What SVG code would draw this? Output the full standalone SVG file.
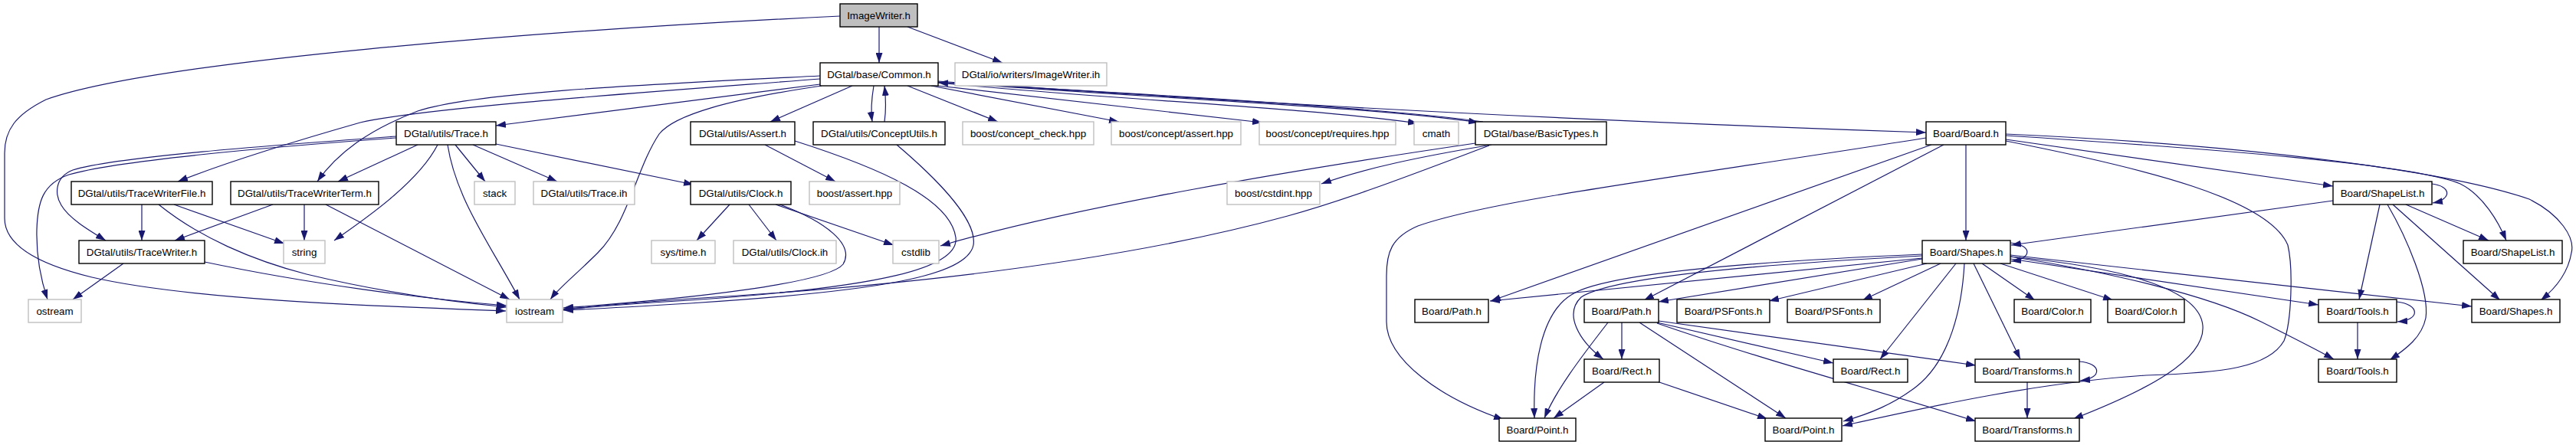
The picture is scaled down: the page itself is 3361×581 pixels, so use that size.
<svg xmlns="http://www.w3.org/2000/svg" width="3361" height="581" viewBox="0 0 3361 581">
<defs>
<marker id="a" viewBox="0 0 13 9" refX="13" refY="4.5" markerWidth="13" markerHeight="9" markerUnits="userSpaceOnUse" orient="auto">
<path d="M0,0 L13,4.5 L0,9 Z" fill="#191970"/>
</marker>
<style>
rect{fill:#fff;stroke:#000;stroke-width:1.4}
.x rect{stroke:#bfbfbf}
.r rect{fill:#bfbfbf}
text{font-family:"Liberation Sans",Arial,Helvetica,sans-serif;font-size:13.33px;text-anchor:middle;fill:#000}
#edges path{fill:none;stroke:#191970;stroke-width:1.2;marker-end:url(#a)}
</style>
</defs>
<rect x="0" y="0" width="3361" height="581" style="fill:#fff;stroke:none"/>
<g id="edges">
<path d="M1147,35 L1147,82"/>
<path d="M1184,35 L1308,82"/>
<path d="M1096,21 C700,40 200,80 60,130 C20,150 6,170 6,200 L6,285 C6,320 50,345 120,362 C250,392 500,400 660,406"/>
<path d="M1070,110 L647,164"/>
<path d="M1070,103 C850,120 560,140 470,160 C400,180 300,210 232,237"/>
<path d="M1070,99 C850,110 620,120 545,145 C480,170 440,200 414,237"/>
<path d="M1072,112 C950,130 880,150 860,175 C830,220 820,290 780,330 C750,360 730,375 718,391"/>
<path d="M1112,112 L1005,159"/>
<path d="M1140,112 C1137,130 1136,145 1138,159"/>
<path d="M1154,159 C1156,145 1156,130 1154,112"/>
<path d="M1184,112 L1302,159"/>
<path d="M1215,112 L1460,159"/>
<path d="M1224,112 L1647,160"/>
<path d="M1224,108 C1450,130 1700,140 1850,161"/>
<path d="M1224,107 C1500,128 1800,140 1929,160"/>
<path d="M1935,159 C1800,140 1450,120 1224,108"/>
<path d="M1224,106 C1500,125 1900,152 2513,173"/>
<path d="M545,189 L441,237"/>
<path d="M517,178 C350,190 150,205 95,222 C70,232 72,255 80,268 C90,285 115,300 138,314"/>
<path d="M517,180 C350,192 150,210 90,228 C55,240 49,265 48,300 C47,340 55,370 62,391"/>
<path d="M571,189 C545,240 470,290 436,314"/>
<path d="M584,189 C595,260 640,320 678,391"/>
<path d="M594,189 L633,237"/>
<path d="M617,189 L727,237"/>
<path d="M647,188 L905,241"/>
<path d="M185,267 L185,314"/>
<path d="M227,267 L371,318"/>
<path d="M207,267 C260,310 330,340 400,358 C500,382 600,395 661,401"/>
<path d="M356,267 L228,314"/>
<path d="M397,267 L397,314"/>
<path d="M425,267 L665,391"/>
<path d="M161,344 L95,391"/>
<path d="M267,342 C400,370 550,390 661,399"/>
<path d="M952,267 L909,314"/>
<path d="M977,267 L1013,314"/>
<path d="M1012,267 L1166,320"/>
<path d="M1015,266 C1080,290 1115,320 1100,345 C1080,370 900,390 735,402"/>
<path d="M998,189 L1090,237"/>
<path d="M1037,184 C1150,220 1240,260 1247,310 C1252,350 1150,375 900,392 C800,398 760,402 735,404"/>
<path d="M1170,189 C1230,240 1275,290 1270,320 C1262,360 1150,380 900,396 C800,402 760,404 735,405"/>
<path d="M1946,189 C1850,205 1780,220 1724,240"/>
<path d="M1925,187 C1700,220 1400,270 1227,321"/>
<path d="M1943,190 C1850,225 1760,260 1680,282 C1450,345 1150,375 900,390 C820,396 770,400 735,404"/>
<path d="M2513,180 C2200,230 1950,260 1850,295 C1815,310 1809,330 1809,360 L1809,420 C1809,470 1880,520 1962,548"/>
<path d="M2520,189 L1945,393"/>
<path d="M2536,189 L2145,392"/>
<path d="M2565,189 L2565,314"/>
<path d="M2617,182 L3044,243"/>
<path d="M2617,184 C2800,220 2960,260 2985,320 C2992,350 2990,420 2980,445 C2960,480 2900,487 2800,490 C2650,500 2500,535 2404,556"/>
<path d="M2617,177 C2900,195 3150,215 3210,240 C3240,255 3260,290 3270,314"/>
<path d="M2617,175 C2950,190 3200,225 3300,260 C3340,280 3360,310 3355,330 C3350,360 3330,380 3315,392"/>
<path d="M3173,240 C3198,243 3200,260 3174,265"/>
<path d="M3044,262 L2624,320"/>
<path d="M3105,267 L3078,391"/>
<path d="M3115,267 C3140,310 3170,380 3165,415 C3160,440 3140,455 3118,470"/>
<path d="M3122,267 L3262,392"/>
<path d="M3139,267 L3247,314"/>
<path d="M2623,317 C2652,320 2652,338 2624,341"/>
<path d="M2508,337 L1944,393"/>
<path d="M2508,332 C2200,345 2080,365 2050,385 C2010,410 2000,480 2002,546"/>
<path d="M2508,334 C2200,350 2090,370 2063,388 C2040,410 2060,445 2092,469"/>
<path d="M2508,338 L2164,394"/>
<path d="M2514,344 L2308,393"/>
<path d="M2532,344 L2430,392"/>
<path d="M2586,344 L2655,392"/>
<path d="M2610,344 L2757,392"/>
<path d="M2552,344 L2453,469"/>
<path d="M2563,344 C2560,400 2545,470 2500,505 C2470,528 2440,540 2405,550"/>
<path d="M2575,344 L2636,469"/>
<path d="M2623,338 L3025,398"/>
<path d="M2623,335 C2750,355 2880,385 2950,420 C2990,440 3020,455 3045,469"/>
<path d="M2623,333 L3225,400"/>
<path d="M2623,335 C2780,350 2870,380 2874,425 C2878,470 2800,510 2705,547"/>
<path d="M2116,421 L2116,469"/>
<path d="M2098,421 C2060,470 2030,510 2015,546"/>
<path d="M2139,421 L2330,546"/>
<path d="M2162,421 L2392,474"/>
<path d="M2164,419 L2578,477"/>
<path d="M2162,422 C2300,470 2450,510 2578,550"/>
<path d="M2093,499 L2027,546"/>
<path d="M2162,498 L2306,547"/>
<path d="M2713,472 C2742,474 2744,494 2714,497"/>
<path d="M2645,499 L2645,546"/>
<path d="M3127,394 C3157,397 3159,418 3128,420"/>
<path d="M3076,421 L3076,469"/>
</g>
<g id="n_imgw" class="r"><rect x="1096" y="5" width="101" height="30"/><text x="1146.5" y="24.7">ImageWriter.h</text></g>
<g id="n_common"><rect x="1070" y="82" width="154" height="30"/><text x="1147" y="101.7">DGtal/base/Common.h</text></g>
<g id="n_imgih" class="x"><rect x="1246" y="82" width="198" height="30"/><text x="1345" y="101.7">DGtal/io/writers/ImageWriter.ih</text></g>
<g id="n_trace"><rect x="517" y="159" width="130" height="30"/><text x="582" y="178.7">DGtal/utils/Trace.h</text></g>
<g id="n_assert"><rect x="901" y="159" width="136" height="30"/><text x="969" y="178.7">DGtal/utils/Assert.h</text></g>
<g id="n_concept"><rect x="1061" y="159" width="172" height="30"/><text x="1147" y="178.7">DGtal/utils/ConceptUtils.h</text></g>
<g id="n_cc" class="x"><rect x="1256" y="159" width="171" height="30"/><text x="1341.5" y="178.7">boost/concept_check.hpp</text></g>
<g id="n_ca" class="x"><rect x="1450" y="159" width="169" height="30"/><text x="1534.5" y="178.7">boost/concept/assert.hpp</text></g>
<g id="n_cr" class="x"><rect x="1643" y="159" width="178" height="30"/><text x="1732" y="178.7">boost/concept/requires.hpp</text></g>
<g id="n_cmath" class="x"><rect x="1845" y="159" width="58" height="30"/><text x="1874" y="178.7">cmath</text></g>
<g id="n_basic"><rect x="1925" y="159" width="171" height="30"/><text x="2010.5" y="178.7">DGtal/base/BasicTypes.h</text></g>
<g id="n_board"><rect x="2513" y="159" width="104" height="30"/><text x="2565" y="178.7">Board/Board.h</text></g>
<g id="n_twf"><rect x="93" y="237" width="184" height="30"/><text x="185" y="256.7">DGtal/utils/TraceWriterFile.h</text></g>
<g id="n_twt"><rect x="301" y="237" width="193" height="30"/><text x="397.5" y="256.7">DGtal/utils/TraceWriterTerm.h</text></g>
<g id="n_stack" class="x"><rect x="619" y="237" width="53" height="30"/><text x="645.5" y="256.7">stack</text></g>
<g id="n_traceih" class="x"><rect x="696" y="237" width="132" height="30"/><text x="762" y="256.7">DGtal/utils/Trace.ih</text></g>
<g id="n_clock"><rect x="901" y="237" width="131" height="30"/><text x="966.5" y="256.7">DGtal/utils/Clock.h</text></g>
<g id="n_bassert" class="x"><rect x="1056" y="237" width="118" height="30"/><text x="1115" y="256.7">boost/assert.hpp</text></g>
<g id="n_cstdint" class="x"><rect x="1601" y="237" width="121" height="30"/><text x="1661.5" y="256.7">boost/cstdint.hpp</text></g>
<g id="n_shapelist"><rect x="3044" y="237" width="129" height="30"/><text x="3108.5" y="256.7">Board/ShapeList.h</text></g>
<g id="n_tw"><rect x="103" y="314" width="164" height="30"/><text x="185" y="333.7">DGtal/utils/TraceWriter.h</text></g>
<g id="n_string" class="x"><rect x="370" y="314" width="54" height="30"/><text x="397" y="333.7">string</text></g>
<g id="n_systime" class="x"><rect x="850" y="314" width="83" height="30"/><text x="891.5" y="333.7">sys/time.h</text></g>
<g id="n_clockih" class="x"><rect x="957" y="314" width="134" height="30"/><text x="1024" y="333.7">DGtal/utils/Clock.ih</text></g>
<g id="n_cstdlib" class="x"><rect x="1165" y="314" width="60" height="30"/><text x="1195" y="333.7">cstdlib</text></g>
<g id="n_shapes"><rect x="2508" y="314" width="115" height="30"/><text x="2565.5" y="333.7">Board/Shapes.h</text></g>
<g id="n_shapelist2"><rect x="3214" y="314" width="129" height="30"/><text x="3278.5" y="333.7">Board/ShapeList.h</text></g>
<g id="n_ostream" class="x"><rect x="37" y="391" width="69" height="30"/><text x="71.5" y="410.7">ostream</text></g>
<g id="n_iostream" class="x"><rect x="661" y="391" width="73" height="30"/><text x="697.5" y="410.7">iostream</text></g>
<g id="n_path1"><rect x="1846" y="391" width="96" height="30"/><text x="1894" y="410.7">Board/Path.h</text></g>
<g id="n_path2"><rect x="2067" y="391" width="97" height="30"/><text x="2115.5" y="410.7">Board/Path.h</text></g>
<g id="n_psf1"><rect x="2188" y="391" width="121" height="30"/><text x="2248.5" y="410.7">Board/PSFonts.h</text></g>
<g id="n_psf2"><rect x="2332" y="391" width="121" height="30"/><text x="2392.5" y="410.7">Board/PSFonts.h</text></g>
<g id="n_color1"><rect x="2628" y="391" width="100" height="30"/><text x="2678" y="410.7">Board/Color.h</text></g>
<g id="n_color2"><rect x="2750" y="391" width="100" height="30"/><text x="2800" y="410.7">Board/Color.h</text></g>
<g id="n_tools1"><rect x="3025" y="391" width="102" height="30"/><text x="3076" y="410.7">Board/Tools.h</text></g>
<g id="n_shapes2"><rect x="3225" y="391" width="115" height="30"/><text x="3282.5" y="410.7">Board/Shapes.h</text></g>
<g id="n_rect1"><rect x="2067" y="469" width="98" height="30"/><text x="2116" y="488.7">Board/Rect.h</text></g>
<g id="n_rect2"><rect x="2392" y="469" width="97" height="30"/><text x="2440.5" y="488.7">Board/Rect.h</text></g>
<g id="n_trans1"><rect x="2577" y="469" width="136" height="30"/><text x="2645" y="488.7">Board/Transforms.h</text></g>
<g id="n_tools2"><rect x="3025" y="469" width="102" height="30"/><text x="3076" y="488.7">Board/Tools.h</text></g>
<g id="n_point1"><rect x="1956" y="546" width="100" height="30"/><text x="2006" y="565.7">Board/Point.h</text></g>
<g id="n_point2"><rect x="2303" y="546" width="100" height="30"/><text x="2353" y="565.7">Board/Point.h</text></g>
<g id="n_trans2"><rect x="2577" y="546" width="136" height="30"/><text x="2645" y="565.7">Board/Transforms.h</text></g>
</svg>
